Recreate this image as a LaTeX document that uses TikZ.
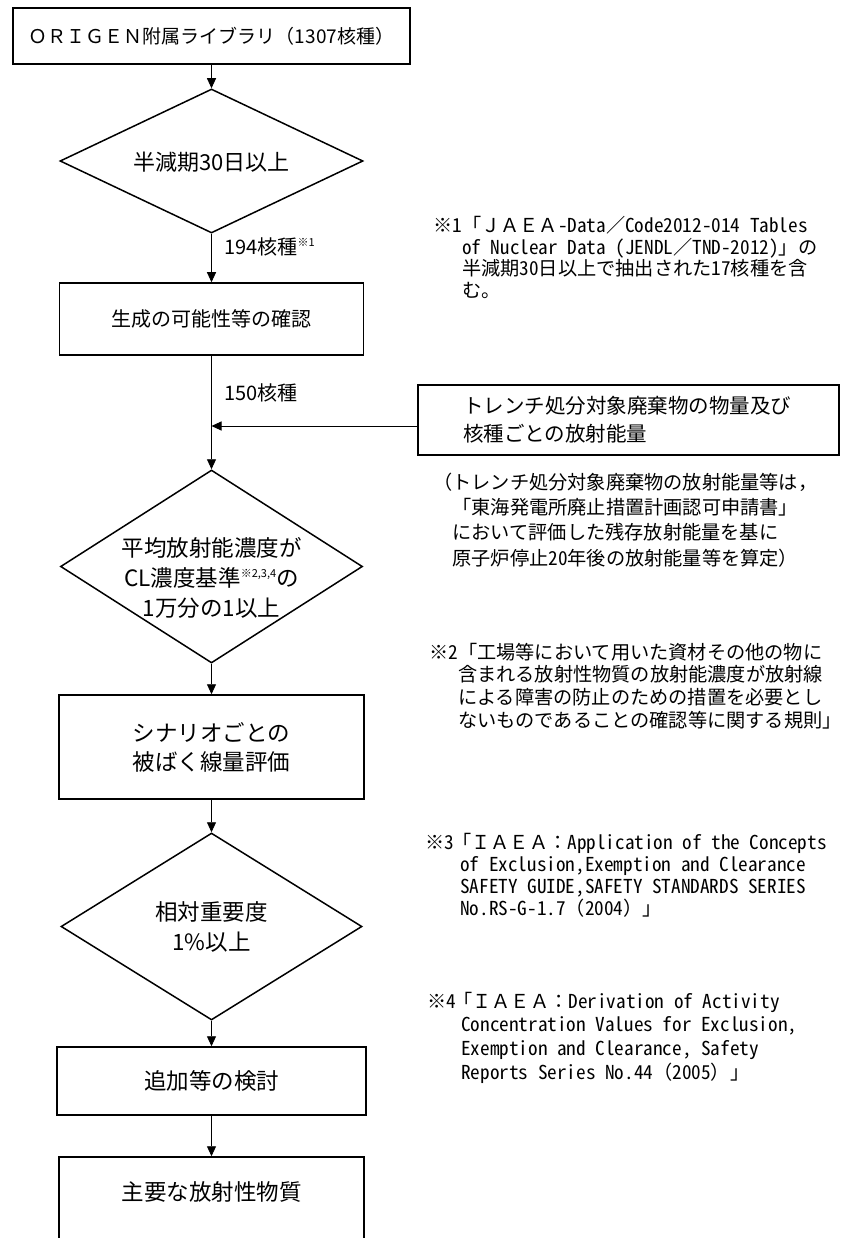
\documentclass[tikz,border=0pt]{standalone}
\usepackage{fontspec}
\setmainfont{Noto Sans CJK JP}
\newfontfamily\mlat[RawFeature=+hwid]{Noto Sans CJK JP}
\usetikzlibrary{arrows.meta,shapes.geometric}
\newcommand\fs[2]{\fontsize{#1}{#2}\selectfont}
\newcommand\sups[1]{\raisebox{0.42em}{\fs{11}{11}#1}}
\begin{document}
\begin{tikzpicture}[x=1pt,y=-1pt,
  box/.style={draw,line width=1.5pt,rectangle,inner sep=0pt,align=center},
  dia/.style={draw,line width=1.5pt,diamond,inner sep=0pt},
  arr/.style={line width=0.9pt,-{Triangle[width=9pt,length=10pt]}},
  txt/.style={inner sep=0pt,align=center},
  note/.style={inner sep=0pt,anchor=west,align=left}]
\useasboundingbox (0,0) rectangle (844,1238);

% main column
\node[box,minimum width=397pt,minimum height=56pt,font=\fs{19}{22}] (top) at (211.5,36) {ＯＲＩＧＥＮ附属ライブラリ（1307核種）};

\node[dia,minimum width=303pt,minimum height=144pt] (d1) at (211.5,161) {};
\node[txt,font=\fs{22}{26}] (d1t) at (211.5,162) {半減期30日以上};

\node[box,minimum width=304pt,minimum height=72pt,font=\fs{20}{24}] (b2) at (211.5,319) {生成の可能性等の確認};

\node[dia,minimum width=302pt,minimum height=193pt] (d2) at (211.5,566.5) {};
\node[txt,font=\fs{22.5}{30}] (d2t) at (211.5,578) {平均放射能濃度が\\CL濃度基準\sups{※2,3,4}の\\1万分の1以上};

\node[box,minimum width=305pt,minimum height=104pt,font=\fs{22.5}{29}] (b3) at (211.5,747) {シナリオごとの\\被ばく線量評価};

\node[dia,minimum width=301pt,minimum height=187pt] (d3) at (211.5,926.5) {};
\node[txt,font=\fs{22.5}{30}] (d3t) at (211.5,927) {相対重要度\\1\%以上};

\node[box,minimum width=309pt,minimum height=68pt,font=\fs{22.5}{26}] (b4) at (211.5,1081) {追加等の検討};

\node[box,minimum width=305pt,minimum height=88pt] (b5) at (211.5,1201) {};
\node[txt,font=\fs{22.5}{26}] (b5t) at (211.5,1192) {主要な放射性物質};

% side input box
\node[box,minimum width=421pt,minimum height=70pt,inner xsep=45pt,text width=331pt,align=left,font=\fs{20.5}{28}] (side) at (628.5,420) {トレンチ処分対象廃棄物の物量及び\\核種ごとの放射能量};
\coordinate (j) at (211.5,426);

% connectors
\draw[arr] (top.south) -- (d1.north);
\draw[arr] (d1.south) -- (b2.north);
\draw[arr] (b2.south) -- (d2.north);
\draw[arr] (side.west |- j) -- (j);
\draw[arr] (d2.south) -- (b3.north);
\draw[arr] (b3.south) -- (d3.north);
\draw[arr] (d3.south) -- (b4.north);
\draw[arr] (b4.south) -- (b5.north);

% edge labels
\node[note,font=\fs{20}{24}] (l194) at (224,247) {194核種\sups{※1}};
\node[note,font=\fs{20}{24}] (l150) at (224,393) {150核種};

% notes
\node[note,font=\fs{19.2}{21.7}] (n1) at (433,257.5) {\makebox[28.8pt][l]{※{\mlat 1}}「ＪＡＥＡ{\mlat -Data}／{\mlat Code2012-014 Tables}\\
\hspace*{28.8pt}{\mlat of Nuclear Data (JENDL}／{\mlat TND-2012)}」の\\
\hspace*{28.8pt}半減期{\mlat 30}日以上で抽出された{\mlat 17}核種を含\\
\hspace*{28.8pt}む。};

\node[note,font=\fs{19.2}{25.3}] (paren) at (433,520) {（トレンチ処分対象廃棄物の放射能量等は，\\
\hspace*{19.2pt}「東海発電所廃止措置計画認可申請書」\\
\hspace*{19.2pt}において評価した残存放射能量を基に\\
\hspace*{19.2pt}原子炉停止{\mlat 20}年後の放射能量等を算定）};

\node[note,font=\fs{19.2}{22.7}] (n2) at (429,686) {\makebox[28.8pt][l]{※{\mlat 2}}「工場等において用いた資材その他の物に\\
\hspace*{28.8pt}含まれる放射性物質の放射能濃度が放射線\\
\hspace*{28.8pt}による障害の防止のための措置を必要とし\\
\hspace*{28.8pt}ないものであることの確認等に関する規則」};

\node[note,font=\fs{19.2}{22}] (n3) at (425,875) {\makebox[35pt][l]{※{\mlat 3}}\hspace{-8pt}「ＩＡＥＡ：{\mlat Application of the Concepts}\\
\hspace*{35pt}{\mlat of Exclusion,Exemption and Clearance}\\
\hspace*{35pt}{\mlat SAFETY GUIDE,SAFETY STANDARDS SERIES}\\
\hspace*{35pt}{\mlat No.RS-G-1.7}（{\mlat 2004}）」};

\node[note,font=\fs{19.2}{23.7}] (n4) at (427,1037.5) {\makebox[34pt][l]{※{\mlat 4}}\hspace{-8pt}「ＩＡＥＡ：{\mlat Derivation of Activity}\\
\hspace*{34pt}{\mlat Concentration Values for Exclusion,}\\
\hspace*{34pt}{\mlat Exemption and Clearance, Safety}\\
\hspace*{34pt}{\mlat Reports Series No.44}（{\mlat 2005}）」};
\end{tikzpicture}
\end{document}
